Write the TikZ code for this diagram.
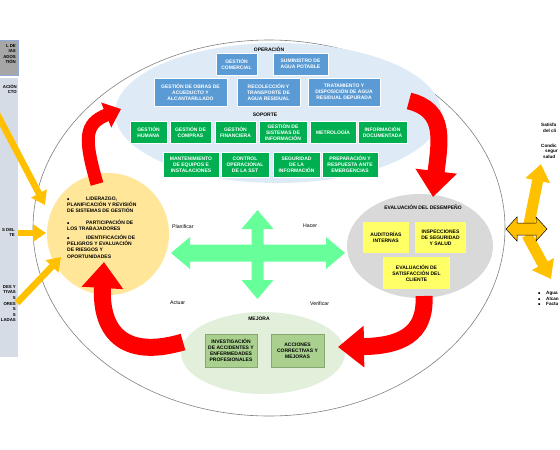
\documentclass[tikz,border=0pt]{standalone}
\usepackage{fontspec}
\setmainfont{Liberation Sans}
\newfontfamily\symfont{DejaVu Sans}
\usetikzlibrary{arrows.meta}
\definecolor{cBlue}{HTML}{5B9BD5}
\definecolor{cLBlue}{HTML}{DEEBF7}
\definecolor{cGreen}{HTML}{00B050}
\definecolor{cCirc}{HTML}{FFE699}
\definecolor{cGray}{HTML}{D9D9D9}
\definecolor{cYel}{HTML}{FFFF66}
\definecolor{cMejE}{HTML}{E2EFDA}
\definecolor{cMej}{HTML}{A9D08E}
\definecolor{cOr}{HTML}{FFC000}
\definecolor{cArr}{HTML}{66FF99}
\definecolor{cPanTop}{HTML}{A6A6A6}
\definecolor{cPan}{HTML}{D6DCE5}
\definecolor{cPanBd}{HTML}{8FAADC}
\newcommand\bul{\makebox[19pt][l]{\symfont\fontsize{3.5}{4}\selectfont ▪}}
\begin{document}
\begin{tikzpicture}[x=1pt,y=-1pt,
  box/.style={inner sep=0pt, align=center, font=\bfseries\fontsize{5}{6.1}\selectfont, draw=white, line width=0.4pt},
  bluebox/.style={box, fill=cBlue, text=white},
  greenbox/.style={box, fill=cGreen, text=white},
  ybox/.style={box, fill=cYel, text=black, draw=none},
  mbox/.style={box, fill=cMej, text=black, draw=cMej!80!black, line width=0.3pt},
  head/.style={inner sep=0pt, font=\bfseries\fontsize{5}{6}\selectfont},
  ctext/.style={inner sep=0pt, align=left, font=\bfseries\fontsize{5}{6.4}\selectfont},
  lbl/.style={inner sep=0pt, font=\fontsize{5.2}{6}\selectfont, anchor=west},
  pan/.style={inner sep=0pt, align=right, font=\bfseries\fontsize{4.3}{5.6}\selectfont, anchor=north east},
  rtext/.style={inner sep=0pt, align=left, font=\bfseries\fontsize{4.6}{5.6}\selectfont, anchor=west},
  redarr/.style={draw=red, line width=17pt, line cap=butt, -{Triangle[length=26pt,width=40pt]}},
  redarrs/.style={draw=red, line width=13pt, line cap=butt, -{Triangle[length=16pt,width=26pt]}},
  yarr/.style={draw=cOr, line width=6.5pt, line cap=butt, -{Triangle[length=13pt,width=17pt]}},
  yarrb/.style={draw=cOr, line width=11pt, line cap=butt, -{Triangle[length=17pt,width=24pt]}}
]
\useasboundingbox (0,0) rectangle (560,450);

% big ellipse
\draw[gray, line width=0.6pt] (269,228) ellipse [x radius=236, y radius=188];

% left panels
\fill[cPan] (0,78) rectangle (18,357);
\draw[cPanBd, fill=cPanTop, line width=0.6pt] (-2,40) rectangle (18,75);
\node[pan] (pt) at (16,44) {L DE\\IAS\\ADOS\\TIÓN};
\node[pan] (p1) at (17,84) {ACIÓN\\CTO};
\node[pan] (p2) at (15,228) {S DEL\\TE};
\node[pan] (p3) at (16,285) {DES Y\\TIVAS\\S\\ORES\\S\\S\\LADAS};

% region ellipses
\fill[cLBlue] (278,113) ellipse [x radius=163, y radius=70];
\fill[cCirc] (108,234) circle [radius=61];
\fill[cGray] (420,246) ellipse [x radius=73, y radius=52];
\fill[cMejE] (263,353) ellipse [x radius=82, y radius=41];

% operation
\node[head] (op) at (269,49) {OPERACIÓN};
\node[bluebox, minimum width=41pt, minimum height=22pt] (gc) at (236.5,64) {GESTIÓN\\COMERCIAL};
\node[bluebox, minimum width=55pt, minimum height=22pt] (sap) at (300.5,64) {SUMINISTRO DE\\AGUA POTABLE};
\node[bluebox, minimum width=73pt, minimum height=28pt] (obr) at (190.5,92) {GESTIÓN DE OBRAS DE\\ACUEDUCTO Y\\ALCANTARILLADO};
\node[bluebox, minimum width=63pt, minimum height=28pt] (rec) at (268.5,92) {RECOLECCIÓN Y\\TRANSPORTE DE\\AGUA RESIDUAL};
\node[bluebox, minimum width=72pt, minimum height=28pt] (tra) at (344,92) {TRATAMIENTO Y\\DISPOSICIÓN DE AGUA\\RESIDUAL DEPURADA};

% support
\node[head] (sop) at (265,115) {SOPORTE};
\node[greenbox, minimum width=37pt, minimum height=22pt] (gh) at (148.5,132) {GESTIÓN\\HUMANA};
\node[greenbox, minimum width=41pt, minimum height=22pt] (gcp) at (190.5,132) {GESTIÓN DE\\COMPRAS};
\node[greenbox, minimum width=41pt, minimum height=22pt] (gf) at (235.5,132) {GESTIÓN\\FINANCIERA};
\node[greenbox, minimum width=48pt, minimum height=22pt] (gsi) at (283,132) {GESTIÓN DE\\SISTEMAS DE\\INFORMACIÓN};
\node[greenbox, minimum width=46pt, minimum height=22pt] (met) at (333,132) {METROLOGÍA};
\node[greenbox, minimum width=49pt, minimum height=22pt] (inf) at (382.5,132) {INFORMACIÓN\\DOCUMENTADA};
\node[greenbox, minimum width=56pt, minimum height=25pt] (man) at (191,164.5) {MANTENIMIENTO\\DE EQUIPOS E\\INSTALACIONES};
\node[greenbox, minimum width=48pt, minimum height=25pt] (ctl) at (245,164.5) {CONTROL\\OPERACIONAL\\DE LA SST};
\node[greenbox, minimum width=47pt, minimum height=25pt] (seg) at (296.5,164.5) {SEGURIDAD\\DE LA\\INFORMACIÓN};
\node[greenbox, minimum width=56pt, minimum height=25pt] (pre) at (350,164.5) {PREPARACIÓN Y\\RESPUESTA ANTE\\EMERGENCIAS};

% planning circle text
\node[ctext, anchor=north west] (b1) at (67,196.5) {\bul LIDERAZGO,\\PLANIFICACIÓN Y REVISIÓN\\DE SISTEMAS DE GESTIÓN};
\node[ctext, anchor=north west] (b2) at (67,219.5) {\bul PARTICIPACIÓN DE\\LOS TRABAJADORES};
\node[ctext, anchor=north west] (b3) at (67,234.5) {\bul IDENTIFICACIÓN DE\\PELIGROS Y EVALUACIÓN\\DE RIESGOS Y\\OPORTUNIDADES};

% evaluation
\node[head] (ev) at (423,207) {EVALUACIÓN DEL DESEMPEÑO};
\node[ybox, minimum width=46pt, minimum height=31pt] (aud) at (386,237.5) {AUDITORÍAS\\INTERNAS};
\node[ybox, minimum width=51pt, minimum height=31pt] (ins) at (440.5,237.5) {INSPECCIONES\\DE SEGURIDAD\\Y SALUD};
\node[ybox, minimum width=67pt, minimum height=32pt] (evs) at (416.5,273) {EVALUACIÓN DE\\SATISFACCIÓN DEL\\CLIENTE};

% improvement
\node[head] (mej) at (259,319) {MEJORA};
\node[mbox, minimum width=52pt, minimum height=33pt] (inv) at (231,350.5) {INVESTIGACIÓN\\DE ACCIDENTES Y\\ENFERMEDADES\\PROFESIONALES};
\node[mbox, minimum width=53pt, minimum height=33pt] (acc) at (297.5,350.5) {ACCIONES\\CORRECTIVAS Y\\MEJORAS};

% green four-way arrow
\fill[cArr] (257.5,210) -- (273.5,229) -- (263.5,229) -- (263.5,244.5) -- (326,244.5) -- (326,237) -- (345,253)
  -- (326,269) -- (326,261.5) -- (263.5,261.5) -- (263.5,280) -- (273.5,280) -- (257.5,299) -- (241.5,280)
  -- (251.5,280) -- (251.5,261.5) -- (190,261.5) -- (190,269) -- (171,253) -- (190,237) -- (190,244.5)
  -- (251.5,244.5) -- (251.5,229) -- (241.5,229) -- cycle;
\node[lbl] (lpl) at (172,227) {Planificar};
\node[lbl] (lha) at (303,226) {Hacer};
\node[lbl] (lac) at (170,303) {Actuar};
\node[lbl] (lve) at (310,304) {Verificar};

% red PDCA arrows
\coordinate (r1s) at (97,184);
\coordinate (r1e) at (121,109);
\coordinate (r2s) at (409,101);
\coordinate (r2e) at (433,197);
\coordinate (r3s) at (424,296);
\coordinate (r3e) at (338,347);
\coordinate (r4s) at (183,342);
\coordinate (r4e) at (104,262);
\draw[redarrs] (r1s) .. controls (84,138) and (84,124) .. (r1e);
\draw[redarr] (r2s) .. controls (446,110) and (440,140) .. (r2e);
\draw[redarr] (r3s) .. controls (426,335) and (400,346) .. (r3e);
\draw[redarr] (r4s) .. controls (122,360) and (100,330) .. (r4e);

% left yellow arrows
\coordinate (y1s) at (-6,108);
\coordinate (y1e) at (45,205);
\coordinate (y2s) at (18,233);
\coordinate (y2e) at (46,233);
\coordinate (y3s) at (17,303);
\coordinate (y3e) at (61,257);
\draw[yarr] (y1s) -- (y1e);
\draw[yarr] (y2s) -- (y2e);
\draw[yarr] (y3s) -- (y3e);

% right yellow arrows
\coordinate (u1s) at (529,224);
\coordinate (u1e) at (541,164);
\coordinate (d1s) at (527,235);
\coordinate (d1e) at (551,279);
\draw[yarrb] (u1s) -- (u1e);
\draw[yarrb] (d1s) -- (d1e);
\draw[fill=cOr, draw=black, line width=0.5pt] (506,229) -- (517,217) -- (517,223) -- (536,223) -- (536,217)
  -- (547,229) -- (536,241) -- (536,235) -- (517,235) -- (517,241) -- cycle;

% right texts
\node[rtext] (t1) at (541,125) {Satisfa};
\node[rtext] (t2) at (543,131) {del cli};
\node[rtext] (t3) at (541,146) {Condic};
\node[rtext] (t4) at (545,151.5) {segur};
\node[rtext] (t5) at (543,157) {salud};
\node[rtext] (t6) at (538,293) {\makebox[8pt][l]{\symfont\fontsize{3.5}{4}\selectfont ▪}Agua};
\node[rtext] (t7) at (538,298.5) {\makebox[8pt][l]{\symfont\fontsize{3.5}{4}\selectfont ▪}Alcan};
\node[rtext] (t8) at (538,304) {\makebox[8pt][l]{\symfont\fontsize{3.5}{4}\selectfont ▪}Factu};
\end{tikzpicture}
\end{document}
